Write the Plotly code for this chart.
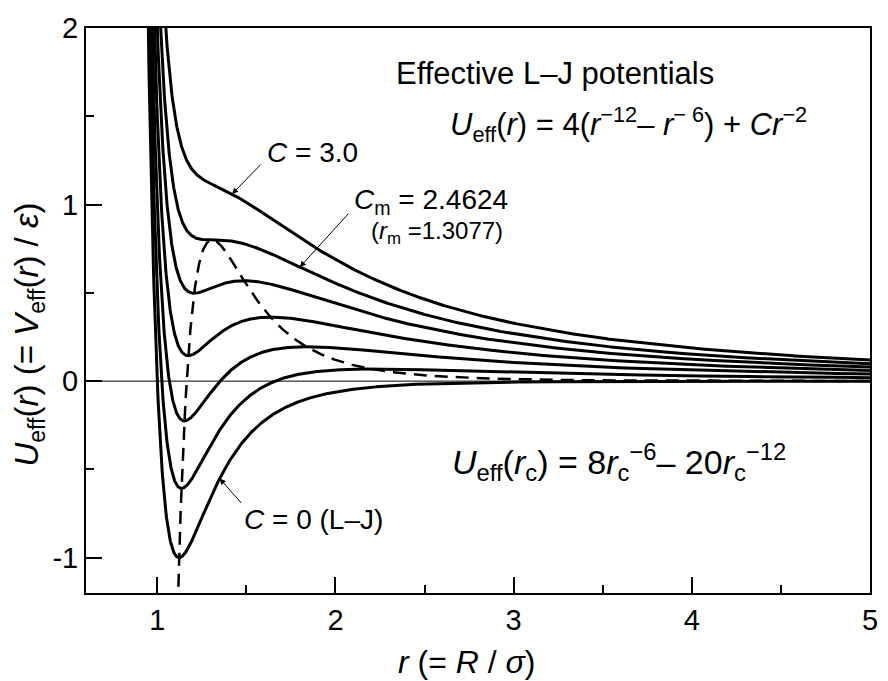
import numpy as np
import plotly.graph_objects as go

# ---- data ----
C_values = [0.0, 0.5, 1.0, 1.5, 2.0, 2.4624, 3.0]
r_grid = np.linspace(0.93, 5.0, 2000)
rc_grid = np.linspace(1.105, 5.0, 2000)
x_ticks = [1, 2, 3, 4, 5]
y_ticks = [-1, 0, 1, 2]
x_range = [0.6, 5.0]
y_range = [-1.2, 2.0]

def u_eff(r, C):
    return 4 * (r ** -12 - r ** -6) + C * r ** -2

def u_locus(rc):
    return 8 * rc ** -6 - 20 * rc ** -12

FONT = "Arial, Liberation Sans, sans-serif"
W, H = 888, 681
ML, MR, MT, MB = 86, 10, 28, 88
PW = W - ML - MR
PH = H - MT - MB

fig = go.Figure()
for C in C_values:
    fig.add_trace(go.Scatter(x=r_grid, y=u_eff(r_grid, C), mode="lines",
                             line=dict(color="black", width=3), showlegend=False,
                             hoverinfo="skip"))
fig.add_trace(go.Scatter(x=rc_grid, y=u_locus(rc_grid), mode="lines",
                         line=dict(color="black", width=2.5, dash="13px,8px"),
                         showlegend=False, hoverinfo="skip"))
# zero line
fig.add_trace(go.Scatter(x=x_range, y=[0, 0], mode="lines",
                         line=dict(color="black", width=1), showlegend=False,
                         hoverinfo="skip"))

ann = []
def text(px, py, s, size, xanchor="left", yanchor="middle", angle=0):
    ann.append(dict(x=(px - ML) / PW, y=(H - MB - py) / PH, xref="paper", yref="paper",
                    text=s, showarrow=False, xanchor=xanchor, yanchor=yanchor,
                    textangle=angle, borderpad=0,
                    font=dict(family=FONT, size=size, color="black")))

def arrow(r, C, ax, ay):
    ann.append(dict(x=r, y=float(u_eff(r, C)), xref="x", yref="y", text="",
                    showarrow=True, arrowhead=2, arrowsize=1.2, arrowwidth=1,
                    arrowcolor="black", ax=ax, ay=ay, standoff=0))

text(398, 73, "Effective L\u2013J potentials", 31)
text(453, 124, "<i>U</i><sub>eff</sub>(<i>r</i>) = 4(<i>r</i><sup>\u221212</sup>\u2013 <i>r</i><sup>\u2212 6</sup>) + <i>Cr</i><sup>\u22122</sup>", 31)
text(455, 462, "<i>U</i><sub>eff</sub>(<i>r</i><sub>c</sub>) = 8<i>r</i><sub>c</sub><sup>\u22126</sup>\u2013 20<i>r</i><sub>c</sub><sup>\u221212</sup>", 34)
text(268, 152, "<i>C</i> = 3.0", 28)
text(356, 201, "<i>C</i><sub>m</sub> = 2.4624", 28)
text(508, 232, "(<i>r</i><sub>m</sub> =1.3077)", 24, xanchor="right")
text(245, 519, "<i>C</i> = 0 (L\u2013J)", 28)

arrow(1.42, 3.0, 30, -31)
arrow(1.80, 2.4624, 50, -55)
arrow(1.35, 0.0, 23, 26)

# axis titles
text(471, 662, "<i>r</i> (= <i>R</i> / <i>\u03c3</i>)", 32, xanchor="center")
text(28, 335, "<i>U</i><sub>eff</sub>(<i>r</i>) (= <i>V</i><sub>eff</sub>(<i>r</i>) / <i>\u03b5</i>)", 33,
     xanchor="center", angle=-90)

axis_common = dict(showgrid=False, zeroline=False, showline=True, linecolor="black",
                   linewidth=2, mirror=True, ticks="inside", tickcolor="black",
                   tickwidth=2, ticklen=16,
                   tickfont=dict(family=FONT, size=29, color="black"))

fig.update_layout(
    width=W, height=H,
    margin=dict(l=ML, r=MR, t=MT, b=MB),
    paper_bgcolor="white", plot_bgcolor="white",
    xaxis=dict(range=x_range, tickvals=x_ticks, ticktext=[str(v) for v in x_ticks],
               minor=dict(ticks="inside", ticklen=8, tickwidth=2, tickcolor="black", dtick=0.5),
               **axis_common),
    yaxis=dict(range=y_range, tickvals=y_ticks, ticktext=[str(v) for v in y_ticks],
               minor=dict(ticks="inside", ticklen=8, tickwidth=2, tickcolor="black", dtick=0.5),
               **axis_common),
    annotations=ann,
)
fig.write_html("out.html", config={"displayModeBar": False},
               post_script="document.body.style.margin='0';document.body.style.overflow='hidden';")
